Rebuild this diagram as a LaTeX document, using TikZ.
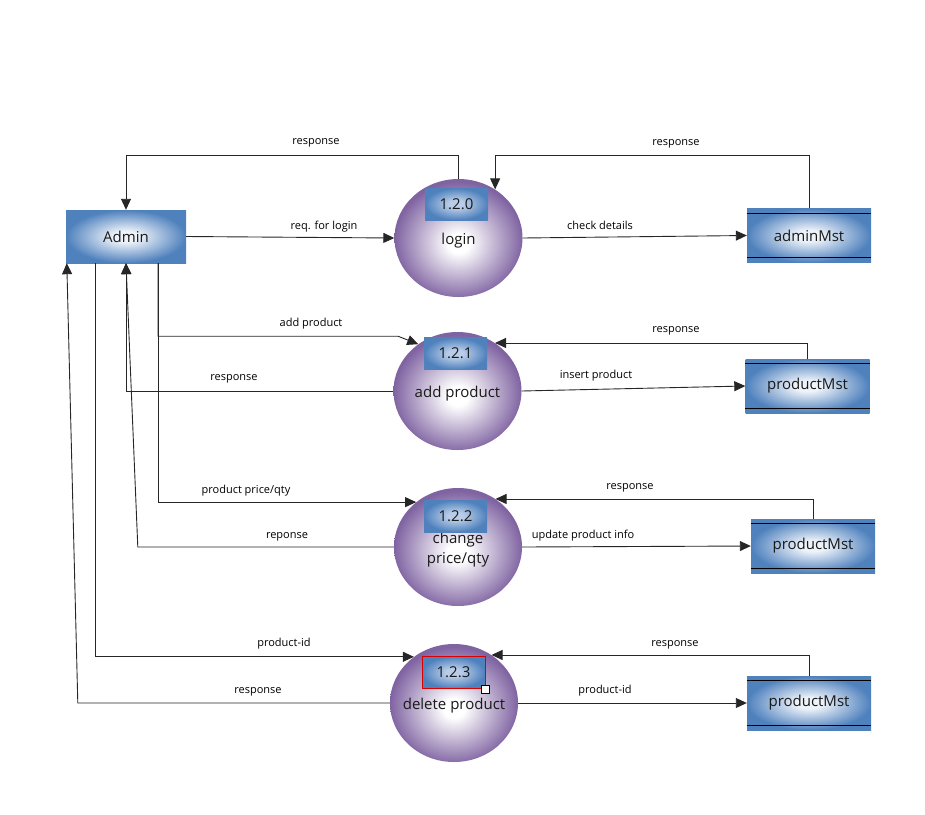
\documentclass[tikz,border=0pt]{standalone}
\usepackage{fontspec}
\setmainfont{Open Sans}
\usetikzlibrary{arrows.meta,shapes.geometric}

\definecolor{dfdblue}{HTML}{4F81BD}
\definecolor{dfdblueinner}{HTML}{EEF3FA}
\definecolor{numinner}{HTML}{B9CDE8}
\definecolor{dfdpurple}{HTML}{8064A2}
\definecolor{linegray}{HTML}{262626}

% radial fills for processes, entities/stores and process numbers
% (the 25bp circle of a shading meets the edge of the shaded shape)
\pgfdeclareradialshading{procshade}{\pgfpoint{0bp}{-2.5bp}}{%
  color(0bp)=(white); color(4bp)=(white); color(25bp)=(dfdpurple); color(50bp)=(dfdpurple)}
\pgfdeclareradialshading{boxshade}{\pgfpoint{0bp}{0bp}}{%
  color(0bp)=(dfdblueinner); color(5bp)=(dfdblueinner); color(25bp)=(dfdblue); color(50bp)=(dfdblue)}
\pgfdeclareradialshading{numshade}{\pgfpoint{0bp}{0bp}}{%
  color(0bp)=(numinner); color(6bp)=(numinner); color(25bp)=(dfdblue); color(50bp)=(dfdblue)}

\tikzset{
  flow/.style={draw=linegray, line width=0.9pt, -{Triangle[length=11pt,width=10pt]}},
  storeedge/.style={draw=black, line width=1pt},
  entity/.style={rectangle, shade, shading=boxshade, minimum width=120pt, minimum height=53pt,
    inner sep=0pt, font=\fontsize{15}{18}\selectfont, text=black!90},
  store/.style={entity, minimum width=124pt, minimum height=54pt},
  proc/.style={ellipse, shade, shading=procshade, minimum width=128pt, minimum height=118pt,
    inner sep=0pt},
  proctext/.style={align=center, font=\fontsize{15}{20}\selectfont, text=black!90, yshift=-3pt, inner sep=0pt},
  procno/.style={rectangle, shade, shading=numshade, minimum width=63pt, minimum height=32pt,
    inner sep=0pt, font=\fontsize{15}{18}\selectfont, text=black!90},
  lbl/.style={font=\fontsize{11}{13}\selectfont, text=black, inner sep=1pt},
}

\begin{document}
\begin{tikzpicture}[x=1pt, y=-1pt]
\useasboundingbox (0,0) rectangle (925,814);

% external entity
\node[entity] (admin) at (126,236.5) {Admin};

% processes with their numbers
\node[proc, label={[proctext]center:login}] (p0) at (458.5,238) {};
\node[procno] (n0) at (456.5,204) {1.2.0};
\node[proc, label={[proctext]center:add product}] (p1) at (457.5,391) {};
\node[procno] (n1) at (455.5,353.5) {1.2.1};
\node[proc, label={[proctext]center:change\\price/qty}] (p2) at (458,547) {};
\node[procno] (n2) at (455.5,516) {1.2.2};
\node[proc, label={[proctext]center:delete product}] (p3) at (454,703) {};
\node[procno, draw=red!85!black, line width=0.8pt] (n3) at (453.5,672.5) {1.2.3};
\node[draw=black, fill=white, minimum size=8pt, inner sep=0pt, line width=0.6pt] (h3) at (n3.south east) {};

% data stores
\node[store] (s0) at (809,235.5) {adminMst};
\node[store] (s1) at (807.5,386) {productMst};
\node[store] (s2) at (813,546) {productMst};
\node[store] (s3) at (809,703) {productMst};
\foreach \s in {s0,s1,s2,s3}{
  \draw[storeedge] ([yshift=-5pt]\s.north west) -- ([yshift=-5pt]\s.north east);
  \draw[storeedge] ([yshift=5pt]\s.south west) -- ([yshift=5pt]\s.south east);
}

% login
\draw[flow] (admin.east) -- (p0.west);
\draw[flow] (p0.east) -- (s0.west);
\draw[flow] (s0.north) -- ++(0,-53) -| (p0.53);
\draw[flow] (p0.north) -- ++(0,-23) -| (admin.north);

% add product
\draw[flow] ([xshift=32pt]admin.south) -- ++(0,73) -- ++(240,0) -- (p1.130);
\draw[flow] (p1.west) -| (admin.south);
\draw[flow] (p1.east) -- (s1.west);
\draw[flow] (s1.north) |- (p1.52);

% change price/qty
\draw[flow] ([xshift=32pt]admin.south) |- (p2.133);
\draw[flow] (p2.west) -- ++(-256,0) -- (admin.south);
\draw[flow] (p2.east) -- (s2.west);
\draw[flow] (s2.north) |- (p2.52);

% delete product
\draw[flow] ([xshift=30pt]admin.south west) |- (p3.131);
\draw[flow] (p3.west) -- ++(-312,0) -- ([xshift=1pt]admin.south west);
\draw[flow] (p3.east) -- (s3.west);
\draw[flow] (s3.north) |- (p3.52);

% flow labels
\node[lbl] (l01) at (316,143) {response};
\node[lbl] (l02) at (676,144) {response};
\node[lbl] (l03) at (324,227) {req. for login};
\node[lbl] (l04) at (600,225) {check details};
\node[lbl] (l05) at (311,324) {add product};
\node[lbl] (l06) at (234,379) {response};
\node[lbl] (l07) at (596,376) {insert product};
\node[lbl] (l08) at (676,331) {response};
\node[lbl] (l09) at (246,491) {product price/qty};
\node[lbl] (l10) at (287,537) {reponse};
\node[lbl] (l11) at (583,536) {update product info};
\node[lbl] (l12) at (630,488) {response};
\node[lbl] (l13) at (284,644) {product-id};
\node[lbl] (l14) at (258,692) {response};
\node[lbl] (l15) at (605,691) {product-id};
\node[lbl] (l16) at (675,645) {response};
\end{tikzpicture}
\end{document}
